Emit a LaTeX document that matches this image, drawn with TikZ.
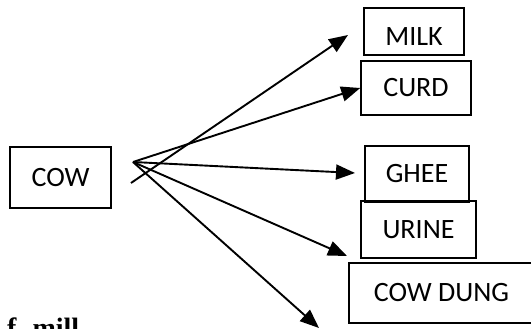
\documentclass[tikz,border=0pt]{standalone}
\usepackage{fontspec}
\setmainfont{Carlito}
\newfontfamily\serifbold{Liberation Serif}
\usetikzlibrary{arrows.meta}
\begin{document}
\begin{tikzpicture}[x=1pt,y=-1pt,
  box/.style={draw,line width=1.6pt,inner sep=0pt,font=\fontsize{28}{30}\selectfont},
  arr/.style={line width=1.9pt,-{Triangle[length=19pt,width=15pt]}}]
\useasboundingbox (0,0) rectangle (531,329);
\clip (0,0) rectangle (531,329);
\node[box,minimum width=101pt,minimum height=61pt] (cow) at (60.5,177.5) {COW};
\node[box,minimum width=100pt,minimum height=47pt,text height=28pt,text depth=0pt] (milk) at (414,31.5) {MILK};
\node[box,minimum width=110pt,minimum height=54pt] (curd) at (416,88) {CURD};
\node[box,minimum width=104pt,minimum height=56pt] (ghee) at (417,174) {GHEE};
\node[box,minimum width=115pt,minimum height=57pt] (urine) at (418.5,229.5) {URINE};
\node[box,minimum width=185pt,minimum height=60pt] (dung) at (441.5,293) {COW DUNG};
\node[anchor=base west,inner sep=0pt,font=\serifbold\bfseries\fontsize{28}{32}\selectfont] (frag) at (7,337) {f\hspace{16pt}mill};
\coordinate (o) at (133,162);
\coordinate (ms) at (131,183);
\coordinate (mt) at (348,35);
\coordinate (gt) at (355,173);
\coordinate (ut) at (347,256);
\coordinate (bt) at (319,328);
\draw[arr] (ms) -- (mt);
\draw[arr] (o) -- (curd.west);
\draw[arr] (o) -- (gt);
\draw[arr] (o) -- (ut);
\draw[arr] (o) -- (bt);
\end{tikzpicture}
\end{document}
